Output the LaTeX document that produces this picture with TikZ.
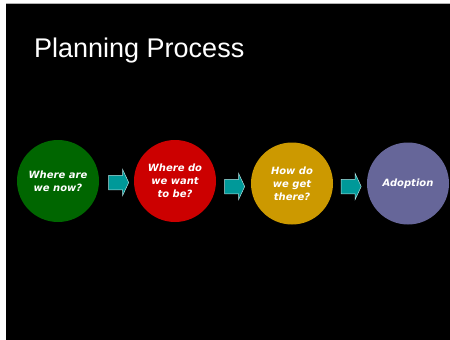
\documentclass[tikz,border=0pt]{standalone}
\usepackage{fontspec}
\setmainfont{Liberation Sans}
\newfontfamily\stagefont{DejaVu Sans}
\usetikzlibrary{shapes.arrows}
\definecolor{nowgreen}{HTML}{006600}
\definecolor{wantred}{HTML}{CC0000}
\definecolor{getgold}{HTML}{CC9900}
\definecolor{adoptpurple}{HTML}{666699}
\definecolor{arrowteal}{HTML}{009999}
\tikzset{
  stage/.style={circle, minimum size=82pt, inner sep=0pt, text=white,
    align=center, font=\stagefont\bfseries\itshape\fontsize{10}{13}\selectfont},
  blockarrow/.style={single arrow, fill=arrowteal, draw=arrowteal!30,
    line width=0.5pt, inner xsep=0pt, inner ysep=7pt, minimum height=20pt,
    single arrow head extend=6pt, single arrow tip angle=130}
}
\begin{document}
\begin{tikzpicture}[x=1pt, y=-1pt]
    \useasboundingbox (0,0) rectangle (450,340);
    \fill[white] (0,0) rectangle (450,340);
    \fill[black] (6,4) rectangle (450,340);
    \draw[gray!60, line width=0.8pt] (6,3.4) -- (450,3.4);
    \node[anchor=base west, text=white, font=\fontsize{27}{32}\selectfont,
      inner sep=0pt] (title) at (34,57) {Planning Process};
    \node[stage, fill=nowgreen] (now) at (58,181) {Where are\\we now?};
    \node[stage, fill=wantred] (want) at (175,181) {Where do\\we want\\to be?};
    \node[stage, fill=getgold] (get) at (292,183.5) {How do\\we get\\there?};
    \node[stage, fill=adoptpurple] (adopt) at (408,183.5) {Adoption};
    \node[blockarrow] (a1) at (117,182.5) {};
    \node[blockarrow] (a2) at (233,186.5) {};
    \node[blockarrow] (a3) at (349.5,186.5) {};
\end{tikzpicture}
\end{document}
